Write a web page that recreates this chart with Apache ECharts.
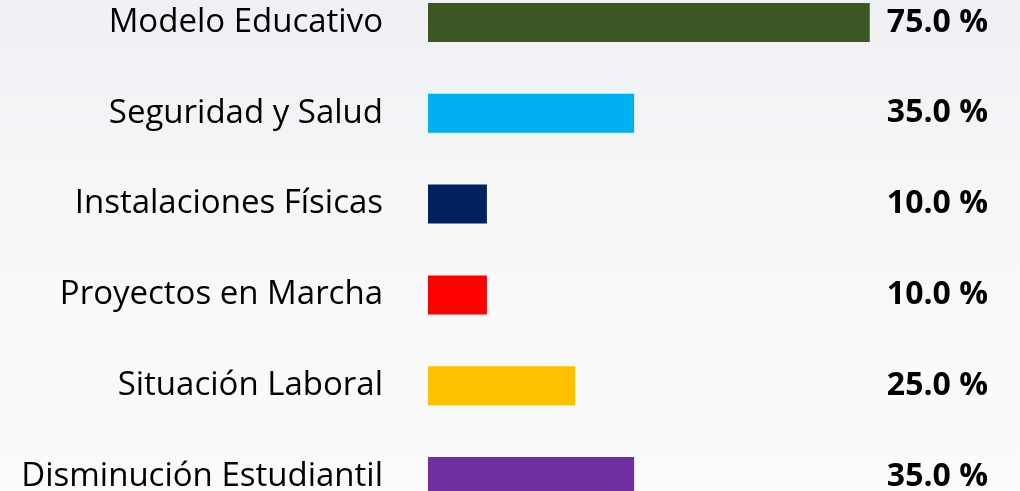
<!DOCTYPE html>
<html>
<head>
<meta charset="utf-8">
<script src="https://cdn.jsdelivr.net/npm/echarts@6/dist/echarts.min.js"></script>
<style>
  html, body { margin: 0; padding: 0; }
  #main { width: 1020px; height: 491px; }
</style>
</head>
<body>
<div id="main"></div>
<script>
var categories = ['Modelo Educativo', 'Seguridad y Salud', 'Instalaciones Físicas', 'Proyectos en Marcha', 'Situación Laboral', 'Disminución Estudiantil'];
var values = [75, 35, 10, 10, 25, 35];
var colors = ['#3a5724', '#00b0f0', '#002060', '#ff0000', '#ffc000', '#7030a0'];

var chart = echarts.init(document.getElementById('main'));

var option = {
  backgroundColor: new echarts.graphic.LinearGradient(0, 0, 0, 1, [
    { offset: 0, color: '#eef0f4' },
    { offset: 0.5, color: '#f8f8f8' },
    { offset: 1, color: '#fbfbfb' }
  ]),
  animation: false,
  grid: {
    left: 428,
    width: 589,
    top: -23,
    height: 545,
    outerBoundsMode: 'none'
  },
  xAxis: {
    type: 'value',
    min: 0,
    max: 100,
    show: false
  },
  yAxis: [{
    type: 'category',
    data: categories,
    inverse: true,
    axisLine: { show: false },
    axisTick: { show: false },
    axisLabel: {
      margin: 45,
      fontFamily: 'Open Sans',
      fontSize: 33,
      color: '#000'
    }
  }, {
    type: 'category',
    data: categories,
    inverse: true,
    position: 'right',
    axisLine: { show: false },
    axisTick: { show: false },
    axisLabel: {
      inside: true,
      margin: 29,
      fontFamily: 'Open Sans',
      fontSize: 32,
      fontWeight: 'bold',
      color: '#000',
      formatter: function (v, i) {
        return values[i].toFixed(1) + ' %';
      }
    }
  }],
  series: [{
    type: 'bar',
    barWidth: 39,
    data: values.map(function (v, i) {
      return { value: v, itemStyle: { color: colors[i] } };
    })
  }]
};

chart.setOption(option);
</script>
</body>
</html>
